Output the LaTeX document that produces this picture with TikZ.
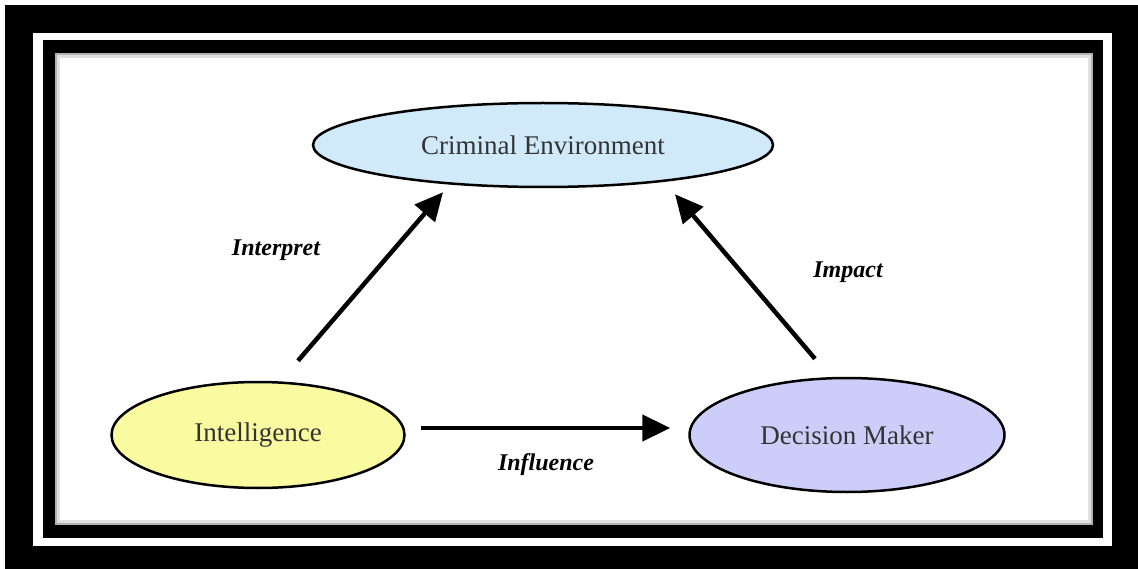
\documentclass[tikz,border=0pt]{standalone}
\usepackage{fontspec}
\setmainfont{Liberation Serif}
\usetikzlibrary{shapes.geometric,arrows.meta}
\definecolor{envblue}{RGB}{208,234,250}
\definecolor{intyellow}{RGB}{250,250,160}
\definecolor{decviolet}{RGB}{205,205,250}
\begin{document}
\begin{tikzpicture}[x=1pt,y=-1pt,
  oval/.style={ellipse, draw, line width=2.5pt, inner sep=0pt, text=black!80,
    font=\fontsize{27}{30}\selectfont},
  flow/.style={line width=4.5pt, -{Triangle[length=28pt,width=26pt]}},
  lbl/.style={font=\fontsize{24}{26}\selectfont\bfseries\itshape}]
\useasboundingbox (0,0) rectangle (1138,569);
% frame
\fill[black] (5,5) rectangle (1138,569);
\fill[white] (33,33) rectangle (1112,546);
\fill[black] (43,40) rectangle (1103,538);
\fill[black!30] (55,53) rectangle (1093,525);
\fill[black!12] (57,55) rectangle (1091,523);
\fill[white] (60,58) rectangle (1088,520);
% ovals
\node[oval, fill=envblue, minimum width=460pt, minimum height=84pt] (crim) at (543,145) {Criminal Environment};
\node[oval, fill=intyellow, minimum width=293pt, minimum height=106pt] (intel) at (258,435) {Intelligence};
\node[oval, fill=decviolet, minimum width=315pt, minimum height=114pt] (dec) at (847,435) {Decision Maker};
% arrows
\draw[flow] ([xshift=40pt,yshift=20pt]intel.north) -- ([xshift=-100pt,yshift=-4pt]crim.south);
\draw[flow] ([xshift=-32pt,yshift=18pt]dec.north) -- ([xshift=132pt,yshift=-6pt]crim.south);
\draw[flow] ([xshift=15pt,yshift=7pt]intel.east) -- ([xshift=-18pt,yshift=7pt]dec.west);
% labels
\node[lbl] (interpret) at (276,250) {Interpret};
\node[lbl] (impact) at (848,272) {Impact};
\node[lbl] (influence) at (546,465) {Influence};
\end{tikzpicture}
\end{document}
